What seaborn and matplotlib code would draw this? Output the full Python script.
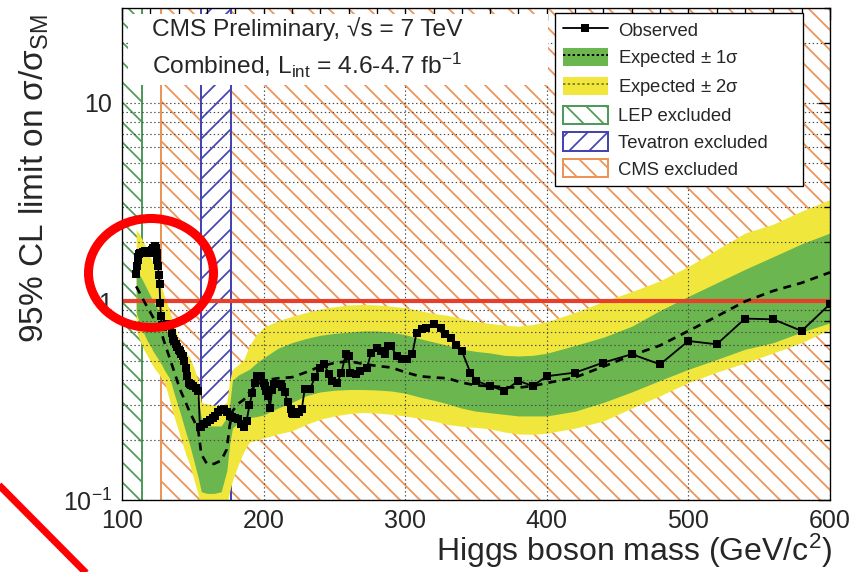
import matplotlib
matplotlib.use("Agg")
import matplotlib.pyplot as plt
import seaborn as sns
import pandas as pd
from matplotlib.patches import Patch, Rectangle, Ellipse
from matplotlib.lines import Line2D
from matplotlib.ticker import FixedLocator, FixedFormatter, MultipleLocator, LogLocator, NullFormatter

# ---- observed 95% CL upper limit on sigma/sigma_SM ----
obs_mass = [110, 110.5, 111, 111.5, 112, 113, 114, 115, 116, 117, 118, 119, 120,
            121, 122, 123, 124, 124.5, 125, 125.5, 126, 126.5, 127, 127.5, 128,
            129, 130, 131, 132, 133, 134, 135, 136, 137, 138, 139, 140, 141, 142,
            143, 144, 145, 146, 147, 148, 149, 150, 152, 154, 155, 156, 158, 160,
            162, 164, 166, 168, 170, 172, 174, 176, 178, 180, 182, 184, 186, 188,
            190, 192, 194, 195, 196, 198, 200, 201, 202, 203, 204.5, 206, 207, 209,
            212, 213, 215, 217, 219, 220, 221, 223, 225, 227, 229, 233, 236, 240,
            243, 246, 248, 252, 255, 258, 260, 261, 265, 268, 273, 276, 280, 283,
            286, 288, 290, 294, 298, 301, 305, 308, 312, 315, 320, 325, 328, 332,
            336, 340, 346, 350, 360, 370, 380, 390, 400, 420, 440, 460, 480, 500,
            520, 540, 560, 580, 600]
obs_limit = [1.37, 1.50, 1.62, 1.68, 1.74, 1.76, 1.75, 1.77, 1.80, 1.78, 1.76, 1.76, 1.78,
             1.82, 1.86, 1.90, 1.86, 1.76, 1.62, 1.50, 1.36, 1.22, 0.98, 0.84, 0.76,
             0.74, 0.75, 0.76, 0.77, 0.77, 0.75, 0.69, 0.65, 0.63, 0.61, 0.59, 0.57, 0.56, 0.545,
             0.53, 0.50, 0.46, 0.42, 0.39, 0.385, 0.38, 0.375, 0.365, 0.354, 0.232, 0.234, 0.241, 0.246,
             0.252, 0.258, 0.266, 0.278, 0.285, 0.288, 0.278, 0.266, 0.262, 0.26, 0.255, 0.24, 0.232, 0.25,
             0.30, 0.345, 0.39, 0.42, 0.415, 0.42, 0.39, 0.375, 0.355, 0.334, 0.292, 0.36, 0.383, 0.385,
             0.383, 0.37, 0.348, 0.31, 0.287, 0.275, 0.27, 0.272, 0.276, 0.287, 0.361, 0.361, 0.414, 0.464,
             0.482, 0.43, 0.398, 0.39, 0.438, 0.542, 0.531, 0.438, 0.43, 0.447, 0.464, 0.552, 0.585, 0.563,
             0.542, 0.596, 0.596, 0.531, 0.511, 0.511, 0.542, 0.696, 0.724, 0.738, 0.767, 0.738, 0.683, 0.657,
             0.60, 0.563, 0.438, 0.398, 0.375, 0.354, 0.398, 0.375, 0.42, 0.438, 0.492, 0.542, 0.482, 0.632,
             0.608, 0.819, 0.812, 0.71, 0.97]

# ---- expected limit: median and 68% / 95% bands ----
band_mass = [110, 112, 115, 118, 120, 122, 125, 128, 130, 134, 137, 141, 145, 148, 151,
             154, 156, 160, 165, 170, 174, 176, 178, 182, 186, 190, 195, 200, 210, 220,
             230, 240, 250, 260, 270, 280, 290, 300, 310, 320, 330, 340, 350, 360, 370,
             380, 390, 400, 420, 440, 460, 480, 500, 520, 540, 560, 580, 600]
exp_median = [1.19, 1.12, 1.02, 0.93, 0.88, 0.83, 0.76, 0.69, 0.62, 0.51, 0.44, 0.36, 0.31, 0.275, 0.25,
              0.22, 0.17, 0.152, 0.152, 0.158, 0.18, 0.235, 0.28, 0.305, 0.32, 0.35, 0.38, 0.40, 0.41, 0.415,
              0.44, 0.47, 0.49, 0.50, 0.485, 0.473, 0.465, 0.44, 0.42, 0.414, 0.41, 0.39, 0.378, 0.374, 0.37,
              0.368, 0.375, 0.388, 0.414, 0.47, 0.535, 0.60, 0.71, 0.84, 1.0, 1.13, 1.24, 1.40]
exp_1s_hi = [1.45, 1.38, 1.26, 1.14, 1.07, 1.00, 0.92, 0.83, 0.76, 0.64, 0.57, 0.49, 0.43, 0.39, 0.36,
             0.32, 0.26, 0.236, 0.236, 0.236, 0.26, 0.30, 0.40, 0.425, 0.44, 0.455, 0.49, 0.52, 0.58, 0.62,
             0.65, 0.675, 0.69, 0.70, 0.71, 0.71, 0.70, 0.68, 0.65, 0.625, 0.60, 0.575, 0.56, 0.55, 0.535,
             0.531, 0.535, 0.548, 0.60, 0.66, 0.75, 0.90, 1.06, 1.24, 1.45, 1.68, 1.95, 2.21]
exp_1s_lo = [0.88, 0.80, 0.70, 0.63, 0.60, 0.56, 0.52, 0.48, 0.45, 0.405, 0.34, 0.276, 0.22, 0.187, 0.155,
             0.128, 0.11, 0.108, 0.108, 0.11, 0.14, 0.19, 0.23, 0.245, 0.255, 0.26, 0.263, 0.268, 0.29, 0.31,
             0.335, 0.35, 0.357, 0.36, 0.36, 0.358, 0.354, 0.345, 0.33, 0.318, 0.305, 0.29, 0.28, 0.275, 0.27,
             0.265, 0.265, 0.265, 0.28, 0.31, 0.35, 0.40, 0.455, 0.51, 0.574, 0.62, 0.70, 0.78]
exp_2s_hi = [2.30, 2.20, 2.00, 1.82, 1.68, 1.56, 1.40, 1.18, 1.06, 0.88, 0.75, 0.62, 0.56, 0.52, 0.46,
             0.39, 0.31, 0.305, 0.30, 0.30, 0.31, 0.40, 0.455, 0.48, 0.51, 0.60, 0.68, 0.74, 0.80, 0.84,
             0.88, 0.915, 0.94, 0.96, 0.965, 0.96, 0.947, 0.93, 0.90, 0.87, 0.85, 0.82, 0.79, 0.775, 0.76,
             0.75, 0.765, 0.79, 0.88, 1.0, 1.12, 1.27, 1.50, 1.82, 2.21, 2.45, 2.85, 3.26]
exp_2s_lo = [0.72, 0.65, 0.58, 0.53, 0.50, 0.47, 0.44, 0.41, 0.39, 0.31, 0.26, 0.21, 0.17, 0.149, 0.125,
             0.105, 0.09, 0.09, 0.09, 0.09, 0.095, 0.11, 0.125, 0.15, 0.175, 0.196, 0.20, 0.205, 0.215, 0.223,
             0.24, 0.255, 0.265, 0.272, 0.276, 0.274, 0.27, 0.265, 0.258, 0.25, 0.24, 0.235, 0.232, 0.228, 0.22,
             0.215, 0.214, 0.217, 0.23, 0.25, 0.29, 0.335, 0.39, 0.44, 0.49, 0.55, 0.62, 0.724]

# ---- excluded mass ranges (GeV) ----
lep_excluded = (100.0, 114.4)
tevatron_excluded = (156.0, 177.0)
cms_excluded = [(127.5, 156.0), (177.0, 600.0)]

x_ticks = [100, 200, 300, 400, 500, 600]
y_ticks = [0.1, 1, 10]
y_tick_labels = [r"10$^{-1}$", "1", "10"]

legend_labels = ["Observed", "Expected $\\pm$ 1σ", "Expected $\\pm$ 2σ",
                 "LEP excluded", "Tevatron excluded", "CMS excluded"]

# ---- colours ----
c_green = "#6bb64f"
c_yellow = "#f1e73c"
c_lep = "#4f9a5a"
c_tev = "#4444b2"
c_cms = "#ec9358"
c_sm = "#e6402c"
c_mark = "#ff0000"

sns.set_style("white")
plt.rcParams["font.family"] = ["Liberation Sans", "DejaVu Sans"]
plt.rcParams["mathtext.fontset"] = "custom"
plt.rcParams["mathtext.rm"] = "Liberation Sans"
plt.rcParams["mathtext.it"] = "Liberation Sans:italic"
plt.rcParams["mathtext.bf"] = "Liberation Sans:bold"
plt.rcParams["hatch.linewidth"] = 1.05

W, H, DPI = 862, 572, 120
fig = plt.figure(figsize=(W / DPI, H / DPI), dpi=DPI)
fig.patch.set_facecolor("white")
ax = fig.add_axes([122 / W, 72 / H, 708 / W, 492 / H])
ax.set_yscale("log")
ax.set_xlim(100, 600)
ax.set_ylim(0.1, 30)

# excluded regions (hatched)
ax.axvspan(*lep_excluded, facecolor="white", edgecolor=c_lep, hatch="\\\\", lw=0, zorder=1)
ax.axvline(lep_excluded[1], color=c_lep, lw=1.2, zorder=1.1)
for lo, hi in cms_excluded:
    ax.axvspan(lo, hi, facecolor="white", edgecolor=c_cms, hatch="\\\\", lw=0, zorder=1)
ax.axvline(cms_excluded[0][0], color=c_cms, lw=1.2, zorder=1.1)
ax.axvspan(*tevatron_excluded, facecolor="white", edgecolor=c_tev, hatch="//", lw=0, zorder=1)
for xv in tevatron_excluded:
    ax.axvline(xv, color=c_tev, lw=1.2, zorder=1.1)

# expected bands
ax.fill_between(band_mass, exp_2s_lo, exp_2s_hi, color=c_yellow, lw=0, zorder=1.5)
ax.fill_between(band_mass, exp_1s_lo, exp_1s_hi, color=c_green, lw=0, zorder=1.6)

# grid
grid_kw = dict(color="#4a4a4a", lw=0.7, ls=(0, (1.2, 2.2)))
ax.grid(True, which="major", axis="x", **grid_kw)
ax.grid(True, which="both", axis="y", **grid_kw)
ax.grid(False, which="minor", axis="x")
ax.set_axisbelow(False)

# text panel
ax.add_patch(Rectangle((104.2, 12.3), 401.0 - 104.2, 28.0 - 12.3, facecolor="white",
                       edgecolor="none", zorder=2.6))

# SM reference line
ax.axhline(1.0, color=c_sm, lw=2.5, zorder=2.7)

# expected median and observed limit
df_exp = pd.DataFrame({"mass": band_mass, "limit": exp_median})
df_obs = pd.DataFrame({"mass": obs_mass, "limit": obs_limit})
sns.lineplot(data=df_exp, x="mass", y="limit", ax=ax, color="k", lw=1.6,
             linestyle=(0, (3, 2.3)), sort=False, estimator=None, zorder=3)
sns.lineplot(data=df_obs, x="mass", y="limit", ax=ax, color="k", lw=1.1, marker="s",
             markersize=5.0, markeredgecolor="k", markeredgewidth=0, sort=False,
             estimator=None, zorder=3.1)

# axes and ticks
ax.xaxis.set_major_locator(FixedLocator(x_ticks))
ax.xaxis.set_minor_locator(MultipleLocator(20))
ax.yaxis.set_major_locator(FixedLocator(y_ticks))
ax.yaxis.set_major_formatter(FixedFormatter(y_tick_labels))
ax.yaxis.set_minor_locator(LogLocator(base=10, subs=range(2, 10)))
ax.yaxis.set_minor_formatter(NullFormatter())
ax.tick_params(which="both", direction="in", top=True, right=True, width=0.8, color="k")
ax.tick_params(which="major", length=7, labelsize=15, pad=6)
ax.tick_params(which="minor", length=3.5)
ax.tick_params(axis="x", which="major", pad=5.5)
for sp in ax.spines.values():
    sp.set_linewidth(0.8)
    sp.set_color("k")
    sp.set_zorder(4)
ax.set_xlabel("")
ax.set_ylabel("")

fig.text(832 / W, 1 - 561 / H, r"Higgs boson mass (GeV/c$^{2}$)", ha="right", va="baseline",
         fontsize=19.2)
fig.text(34 / W, 1 - 14 / H, r"95% CL limit on σ/σ$_{\rm SM}$", rotation=90, ha="center",
         va="top", fontsize=20)
fig.text(152 / W, 1 - 36 / H, "CMS Preliminary, √s = 7 TeV", ha="left", va="baseline",
         fontsize=14.7, zorder=5)
fig.text(152 / W, 1 - 74 / H, r"Combined, L$_{\rm int}$ = 4.6-4.7 fb$^{-1}$", ha="left",
         va="baseline", fontsize=14.7, zorder=5)

# legend
handles = [
    Line2D([], [], color="k", lw=1.1, marker="s", markersize=4.6, markeredgewidth=0),
    (Patch(facecolor=c_green, edgecolor="none"), Line2D([], [], color="k", lw=1.2, ls=(0, (1.2, 1.2)))),
    (Patch(facecolor=c_yellow, edgecolor="none"), Line2D([], [], color="#8a8420", lw=1.2, ls=(0, (1.2, 1.2)))),
    Patch(facecolor="white", edgecolor=c_lep, hatch="\\\\", lw=1.2),
    Patch(facecolor="white", edgecolor=c_tev, hatch="//", lw=1.2),
    Patch(facecolor="white", edgecolor=c_cms, hatch="\\\\", lw=1.2),
]
leg = fig.legend(handles, legend_labels, loc="upper left",
                 bbox_to_anchor=(555 / W, 1 - 188 / H, 248 / W, 175 / H),
                 bbox_transform=fig.transFigure, mode="expand", borderaxespad=0,
                 fontsize=11.1, frameon=True, fancybox=False, framealpha=1,
                 edgecolor="k", handlelength=2.42, handleheight=1.13,
                 handletextpad=0.55, labelspacing=0.41, borderpad=0.42)
leg.get_frame().set_linewidth(0.8)
leg.set_zorder(6)

# highlight marks
fig.add_artist(Ellipse((151 / W, 1 - 273 / H), 125 / W, 109 / H, transform=fig.transFigure,
                       fill=False, edgecolor=c_mark, lw=5.4, zorder=10))
fig.add_artist(Line2D([-12 / W, 100 / W], [1 - 474 / H, 1 - 587 / H], transform=fig.transFigure,
                      color=c_mark, lw=4.2, zorder=10, solid_capstyle="butt"))

fig.savefig("out.png", dpi=DPI)
